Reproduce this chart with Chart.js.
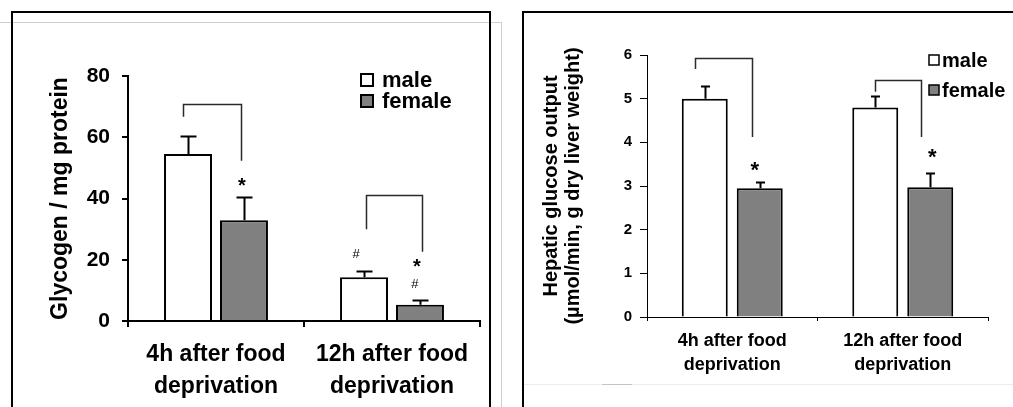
<!DOCTYPE html>
<html>
<head>
<meta charset="utf-8">
<script src="https://cdn.jsdelivr.net/npm/chart.js@4/dist/chart.umd.min.js"></script>
<style>
  html, body { margin: 0; padding: 0; background: #fff; }
  body { width: 1013px; height: 407px; overflow: hidden; position: relative; }
  .line { position: absolute; box-sizing: border-box; }
  #sheetL { left: 0; top: 22px; width: 502px; height: 400px; border-top: 1px solid #cfcfcf; border-right: 1px solid #cfcfcf; }
  #frameL { left: 11px; top: 11px; width: 480px; height: 440px; border: 2px solid #000; }
  #frameR { left: 522px; top: 11px; width: 520px; height: 440px; border: 2px solid #000; }
  #sheetR { left: 524px; top: 384px; width: 489px; height: 1px; background: #ececec; }
  #markR { left: 602px; top: 384px; width: 30px; height: 1px; background: #c4c4c4; }
  canvas { position: absolute; top: 0; }
  #glycogen { left: 0; }
  #hgo { left: 503px; }
</style>
</head>
<body>
<div class="line" id="sheetL"></div>
<div class="line" id="frameL"></div>
<div class="line" id="frameR"></div>
<div class="line" id="sheetR"></div>
<div class="line" id="markR"></div>
<canvas id="glycogen" width="500" height="407"></canvas>
<canvas id="hgo" width="510" height="407"></canvas>
<script>
// Groups shared by both panels
const groups = [['4h after food', 'deprivation'], ['12h after food', 'deprivation']];
const seriesNames = ['male', 'female'];

// Liver glycogen (per mg protein), mean and SEM
const glycogenMale = [54.5, 14.3];
const glycogenMaleSem = [6.0, 2.1];
const glycogenFemale = [32.9, 5.3];
const glycogenFemaleSem = [7.6, 1.6];
const glycogenTicks = [0, 20, 40, 60, 80];

// Hepatic glucose output, mean and SEM
const hgoMale = [5.00, 4.80];
const hgoMaleSem = [0.29, 0.27];
const hgoFemale = [2.95, 2.97];
const hgoFemaleSem = [0.14, 0.33];
const hgoTicks = [0, 1, 2, 3, 4, 5, 6];

// Comparison brackets: [group, bracket level, male end, female end]
const glycogenBrackets = [[0, 70.9, 66.7, 52.3], [1, 41.1, 30.0, 22.6]];
const hgoBrackets = [[0, 5.93, 5.68, 4.12], [1, 5.43, 5.16, 4.12]];

// Significance marks: [symbol, group, series index, level]
const glycogenMarks = [['*', 0, 1, 45.4], ['#', 1, 0, 21.9], ['*', 1, 1, 18.9], ['#', 1, 1, 12.4]];
const hgoMarks = [['*', 0, 1, 3.45], ['*', 1, 1, 3.75]];

const FAMILY = '"Liberation Sans", Arial, Helvetica, sans-serif';

// Error bars, brackets, significance symbols and the legend box
const decorPlugin = {
  id: 'decor',
  afterDatasetsDraw(chart, args, o) {
    const ctx = chart.ctx;
    const y = chart.scales.y;
    const centerOf = (g, s) => chart.getDatasetMeta(s).data[g].x;
    ctx.save();

    // upper half of each SEM bar
    ctx.strokeStyle = '#000';
    ctx.lineWidth = o.errWidth;
    chart.data.datasets.forEach((ds, s) => {
      const meta = chart.getDatasetMeta(s);
      ds.sem.forEach((e, g) => {
        const bar = meta.data[g];
        const top = Math.round(y.getPixelForValue(ds.data[g] + e)) + 0.5;
        const cx = Math.round(bar.x) + 0.5;
        ctx.beginPath();
        ctx.moveTo(cx, bar.y);
        ctx.lineTo(cx, top);
        ctx.moveTo(cx - o.cap, top);
        ctx.lineTo(cx + o.cap, top);
        ctx.stroke();
      });
    });

    // brackets joining male and female bars of a group
    ctx.strokeStyle = '#2a2a2a';
    ctx.lineWidth = o.bracketWidth;
    ctx.lineJoin = 'miter';
    o.brackets.forEach((b, i) => {
      const [g, level, mEnd, fEnd] = b;
      const xl = Math.round(centerOf(g, 0) + o.bracketDx[i][0]) + 0.5;
      const xr = Math.round(centerOf(g, 1) + o.bracketDx[i][1]) + 0.5;
      const yt = Math.round(y.getPixelForValue(level)) + 0.5;
      ctx.beginPath();
      ctx.moveTo(xl, y.getPixelForValue(mEnd));
      ctx.lineTo(xl, yt);
      ctx.lineTo(xr, yt);
      ctx.lineTo(xr, y.getPixelForValue(fEnd));
      ctx.stroke();
    });

    // significance symbols
    ctx.fillStyle = '#000';
    ctx.textAlign = 'center';
    ctx.textBaseline = 'alphabetic';
    o.marks.forEach((m, i) => {
      const [sym, g, s, level] = m;
      ctx.font = o.markFont[sym];
      const tm = ctx.measureText(sym);
      const cy = y.getPixelForValue(level);
      const by = cy + (tm.actualBoundingBoxAscent - tm.actualBoundingBoxDescent) / 2;
      ctx.fillText(sym, centerOf(g, s) + o.markDx[i], by);
    });

    // legend
    const L = o.legend;
    ctx.font = L.font;
    ctx.textAlign = 'left';
    ctx.textBaseline = 'middle';
    chart.data.datasets.forEach((ds, s) => {
      const cy = L.y + s * L.gap;
      ctx.fillStyle = ds.backgroundColor;
      ctx.fillRect(L.x, cy - L.box / 2, L.box, L.box);
      ctx.strokeStyle = '#000';
      ctx.lineWidth = L.border;
      ctx.strokeRect(L.x, cy - L.box / 2, L.box, L.box);
      ctx.fillStyle = '#000';
      ctx.fillText(ds.label, L.textX, cy + 1);
    });
    ctx.restore();
  }
};

function buildChart(id, c) {
  return new Chart(document.getElementById(id), {
    type: 'bar',
    data: {
      labels: groups,
      datasets: [
        { label: seriesNames[0], data: c.male, sem: c.maleSem, backgroundColor: '#ffffff',
          borderColor: '#000', borderWidth: c.barBorder },
        { label: seriesNames[1], data: c.female, sem: c.femaleSem, backgroundColor: '#808080',
          borderColor: '#000', borderWidth: c.barBorder }
      ]
    },
    options: {
      responsive: false,
      animation: false,
      events: [],
      layout: { padding: c.padding },
      datasets: { bar: { categoryPercentage: c.catPct, barPercentage: c.barPct } },
      plugins: {
        legend: { display: false },
        tooltip: { enabled: false },
        decor: c.decor
      },
      scales: {
        x: {
          offset: true,
          border: { color: '#000', width: c.axisWidth },
          grid: { drawOnChartArea: false, drawTicks: true, tickLength: c.xTickLen, color: '#000',
                  lineWidth: c.axisWidth, offset: true },
          ticks: { color: '#000', font: c.xFont, padding: c.xPad, maxRotation: 0, autoSkip: false },
          afterFit(s) { s.height = c.xHeight; }
        },
        y: {
          min: c.ticks[0],
          max: c.ticks[c.ticks.length - 1],
          border: { color: '#000', width: c.axisWidth },
          grid: { drawOnChartArea: false, drawTicks: true, tickLength: c.yTickLen, color: '#000',
                  lineWidth: c.axisWidth },
          ticks: { color: '#000', font: c.yFont, padding: c.yPad },
          afterBuildTicks(s) { s.ticks = c.ticks.map(v => ({ value: v })); },
          title: { display: true, text: c.title, color: '#000', font: c.titleFont,
                   padding: { top: c.titlePad, bottom: 0 } },
          afterFit(s) { s.width = c.yWidth; }
        }
      }
    },
    plugins: [decorPlugin]
  });
}

// Left panel: glycogen content
buildChart('glycogen', {
  male: glycogenMale, maleSem: glycogenMaleSem,
  female: glycogenFemale, femaleSem: glycogenFemaleSem,
  ticks: glycogenTicks,
  title: 'Glycogen / mg protein',
  titleFont: { family: FAMILY, size: 23, weight: 'bold', lineHeight: 1.2 },
  titlePad: 47,
  padding: { top: 76, right: 20, bottom: 0, left: 0 },
  yWidth: 128, xHeight: 86,
  catPct: 0.636, barPct: 0.857, barBorder: 2, axisWidth: 2,
  xTickLen: 6, yTickLen: 6, xPad: 12, yPad: 12,
  xFont: { family: FAMILY, size: 23, weight: 'bold', lineHeight: 1.39 },
  yFont: { family: FAMILY, size: 21, weight: 'bold' },
  decor: {
    errWidth: 2, cap: 8, bracketWidth: 1.5,
    brackets: glycogenBrackets, bracketDx: [[-5, -3], [2, 2]],
    marks: glycogenMarks, markDx: [-2, -8, -3, -5],
    markFont: { '*': 'bold 20px ' + FAMILY, '#': '13px ' + FAMILY },
    legend: { x: 361, y: 80, gap: 21, box: 12, border: 2, textX: 382, font: 'bold 22px ' + FAMILY }
  }
});

// Right panel: hepatic glucose output
buildChart('hgo', {
  male: hgoMale, maleSem: hgoMaleSem,
  female: hgoFemale, femaleSem: hgoFemaleSem,
  ticks: hgoTicks,
  title: ['Hepatic glucose output', '(\u00b5mol/min, g dry liver weight)'],
  titleFont: { family: FAMILY, size: 20, weight: 'bold', lineHeight: 1.1 },
  titlePad: 37,
  padding: { top: 55, right: 25, bottom: 0, left: 0 },
  yWidth: 144, xHeight: 90,
  catPct: 0.645, barPct: 0.836, barBorder: 2, axisWidth: 1,
  xTickLen: 4, yTickLen: 7, xPad: 8, yPad: 8,
  xFont: { family: FAMILY, size: 18, weight: 'bold', lineHeight: 1.33 },
  yFont: { family: FAMILY, size: 15, weight: 'bold' },
  decor: {
    errWidth: 2, cap: 4.5, bracketWidth: 1.5,
    brackets: hgoBrackets, bracketDx: [[-10, -8], [0, -9]],
    marks: hgoMarks, markDx: [-5, 2],
    markFont: { '*': 'bold 22px ' + FAMILY },
    legend: { x: 426, y: 60, gap: 30, box: 10, border: 1.5, textX: 439, font: 'bold 20px ' + FAMILY }
  }
});
</script>
</body>
</html>
